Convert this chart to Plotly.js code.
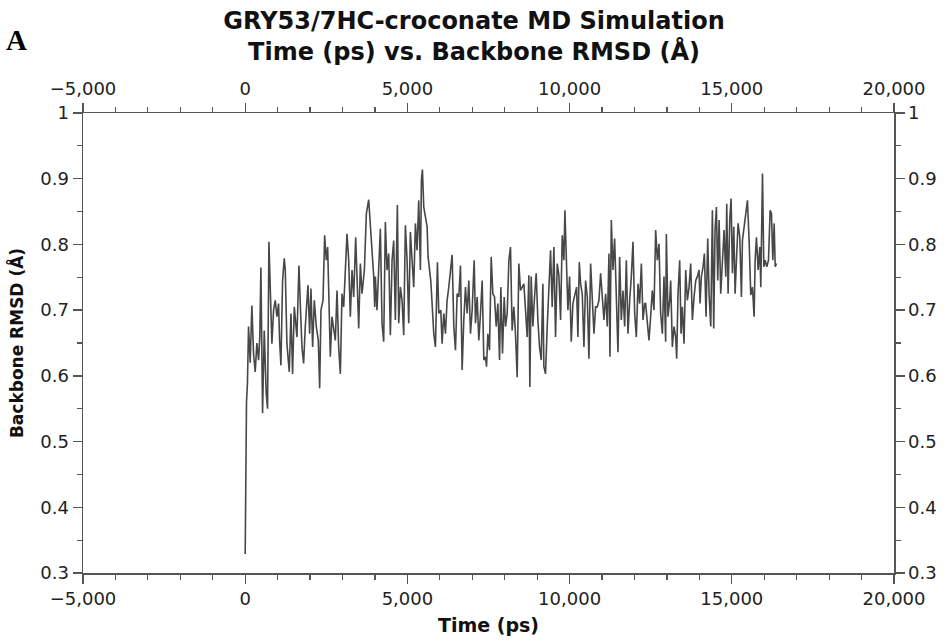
<!DOCTYPE html>
<html>
<head>
<meta charset="utf-8">
<script src="https://cdn.plot.ly/plotly-3.0.1.min.js"></script>
<style>html,body{margin:0;padding:0;background:#fff;}#chart{width:948px;height:641px;}</style>
</head>
<body>
<div id="chart"></div>
<script>
// Time (ps)
const timePs = [
0,20,40,70,103,154,206,257,309,360,412,450,484,535,587,648,689,731,772,823,875,926,978,1029,1060,1101,1152,1204,1235,1286,1358,1410,1461,1513,1595,1657,1698,1749,1801,1852,1935,1986,2027,2079,2130,2192,2253,2295,2336,2398,2449,2500,2542,2573,2624,2675,2727,2778,2830,2881,2933,2984,3036,3097,3138,3190,3241,3293,3344,3406,3447,3499,3550,3602,3674,3735,3807,3859,3910,3962,3993,
4012,4063,4166,4218,4269,4321,4372,4424,4475,4527,4578,4629,4691,4732,4784,4835,4887,4938,4990,5041,5092,5144,5195,5247,5298,5350,5401,5432,5463,5504,5556,5607,5638,5679,5720,5761,5813,5864,5926,5967,6029,6070,6121,6173,6224,6276,6338,6379,6430,6482,6533,6585,6636,6687,6739,6790,6842,6893,6945,6996,7058,7099,7150,7202,7253,7305,7356,7408,7439,7480,7531,7583,7634,7686,7737,7788,7840,7881,7932,7984,8025,8076,8128,
8178,8229,8281,8332,8384,8435,8487,8538,8590,8641,8693,8744,8775,8816,8867,8919,8970,9022,9073,9125,9176,9207,9258,9310,9361,9413,9464,9516,9567,9619,9670,9722,9773,9824,9855,9896,9948,9999,10051,10102,10154,10215,10256,10298,10339,10390,10442,10493,10545,10596,10648,10699,10751,10802,10853,10905,10956,11008,11059,11111,11162,11214,11244,11286,11337,11388,11440,11491,11543,11594,11646,11697,11749,11800,11852,11903,11954,12006,12057,12109,12160,12212,12263,12315,
12344,12395,12447,12498,12550,12601,12653,12704,12756,12807,12859,12910,12961,12982,13033,13085,13116,13167,13219,13270,13301,13342,13394,13435,13476,13527,13579,13630,13682,13733,13785,13836,13888,13939,13990,14021,14062,14114,14155,14206,14258,14299,14351,14402,14443,14484,14525,14567,14608,14659,14711,14762,14814,14844,14886,14937,14978,15019,15061,15102,15143,15194,15246,15297,15328,15380,15431,15482,15534,15585,15637,15688,15719,15760,15812,15863,15894,15946,15987,16028,16079,16131,16182,16223,16264,16306,16337,16378
];
// Backbone RMSD (Å)
const rmsd = [
0.329,0.444,0.56,0.59,0.675,0.62,0.707,0.634,0.606,0.65,0.624,0.66,0.765,0.543,0.669,0.573,0.550,0.804,0.725,0.649,0.700,0.715,0.690,0.710,0.654,0.616,0.745,0.779,0.761,0.649,0.606,0.695,0.603,0.705,0.659,0.768,0.710,0.644,0.619,0.675,0.738,0.664,0.733,0.644,0.715,0.675,0.654,0.581,0.700,0.715,0.814,0.776,0.796,0.715,0.629,0.690,0.675,0.654,0.730,0.644,0.603,0.725,0.705,0.781,0.816,0.776,0.690,0.761,0.720,0.811,0.751,0.672,0.771,0.725,0.761,0.847,0.868,0.827,0.796,0.751,0.705,
0.751,0.700,0.824,0.680,0.652,0.834,0.761,0.786,0.662,0.776,0.806,0.685,0.860,0.680,0.735,0.715,0.662,0.829,0.776,0.680,0.819,0.776,0.735,0.832,0.791,0.867,0.761,0.898,0.914,0.857,0.842,0.827,0.781,0.761,0.745,0.710,0.664,0.644,0.773,0.695,0.700,0.649,0.695,0.664,0.715,0.735,0.766,0.784,0.675,0.639,0.725,0.720,0.768,0.609,0.685,0.735,0.695,0.745,0.664,0.700,0.776,0.680,0.720,0.654,0.695,0.745,0.624,0.629,0.614,0.664,0.639,0.781,0.725,0.720,0.675,0.710,0.624,0.735,0.634,0.720,0.675,0.695,0.776,
0.796,0.669,0.705,0.664,0.598,0.771,0.730,0.735,0.740,0.700,0.659,0.753,0.583,0.751,0.675,0.720,0.756,0.685,0.644,0.624,0.740,0.614,0.603,0.675,0.735,0.791,0.705,0.796,0.659,0.771,0.753,0.685,0.814,0.776,0.852,0.791,0.700,0.751,0.652,0.710,0.720,0.735,0.659,0.773,0.740,0.725,0.644,0.745,0.720,0.626,0.771,0.710,0.664,0.705,0.705,0.715,0.756,0.720,0.685,0.725,0.675,0.786,0.629,0.837,0.761,0.809,0.705,0.636,0.781,0.685,0.730,0.675,0.776,0.664,0.715,0.751,0.804,0.695,0.659,0.740,0.710,0.771,0.685,0.710,
0.710,0.675,0.654,0.690,0.730,0.700,0.822,0.776,0.801,0.695,0.664,0.751,0.652,0.816,0.690,0.715,0.745,0.644,0.675,0.659,0.626,0.725,0.776,0.664,0.705,0.649,0.761,0.715,0.735,0.771,0.685,0.720,0.745,0.751,0.761,0.710,0.751,0.766,0.786,0.690,0.809,0.725,0.675,0.852,0.672,0.822,0.857,0.745,0.837,0.725,0.781,0.822,0.751,0.862,0.725,0.837,0.870,0.756,0.827,0.725,0.776,0.832,0.811,0.720,0.806,0.827,0.839,0.867,0.806,0.723,0.735,0.690,0.776,0.811,0.761,0.796,0.735,0.908,0.766,0.776,0.766,0.776,0.852,0.847,0.776,0.832,0.766,0.771
];
const xTickVals = [-5000, 0, 5000, 10000, 15000, 20000];
const yTickVals = [0.3, 0.4, 0.5, 0.6, 0.7, 0.8, 0.9, 1];
const titleText = 'GRY53/7HC-croconate MD Simulation<br>Time (ps) vs. Backbone RMSD (Å)';
const xTitle = 'Time (ps)';
const yTitle = 'Backbone RMSD (Å)';
const panelLabel = 'A';

const axisColor = '#555';
const tickFont = {family: 'DejaVu Sans', size: 18, color: '#222'};

const xCommon = {
  range: [-5000, 20000], tickvals: xTickVals, tickformat: ',d',
  ticks: 'outside', ticklen: 9, tickwidth: 1.3, tickcolor: axisColor,
  showline: true, linecolor: axisColor, linewidth: 1.5,
  showgrid: false, zeroline: false, tickfont: tickFont,
  minor: {dtick: 1000, tick0: 0, ticks: 'outside', ticklen: 5, tickwidth: 1.2, tickcolor: axisColor, showgrid: false}
};
const yCommon = {
  range: [0.3, 1], tickvals: yTickVals,
  ticks: 'outside', ticklen: 9, tickwidth: 1.3, tickcolor: axisColor,
  showline: true, linecolor: axisColor, linewidth: 1.5,
  showgrid: false, zeroline: false, tickfont: tickFont,
  minor: {dtick: 0.05, tick0: 0.3, ticks: 'outside', ticklen: 5, tickwidth: 1.2, tickcolor: axisColor, showgrid: false}
};

const data = [
  {x: timePs, y: rmsd, type: 'scatter', mode: 'lines',
   line: {color: '#474747', width: 1.6}, hoverinfo: 'skip', showlegend: false},
  {x: [], y: [], xaxis: 'x2', yaxis: 'y2', type: 'scatter', mode: 'lines', showlegend: false, hoverinfo: 'skip'}
];

const layout = {
  width: 948, height: 641,
  margin: {l: 83, r: 54, t: 113, b: 68},
  paper_bgcolor: '#fff', plot_bgcolor: '#fff',
  showlegend: false,
  title: {text: titleText, x: 0.5, xref: 'container', xanchor: 'center',
          y: 1 - 29/641, yref: 'container', yanchor: 'middle',
          font: {family: 'DejaVu Sans', size: 24, color: '#111', weight: 'bold'}},
  xaxis: Object.assign({}, xCommon, {
    side: 'bottom',
    title: {text: xTitle, standoff: 10, font: {family: 'DejaVu Sans', size: 19, color: '#111', weight: 'bold'}}
  }),
  xaxis2: Object.assign({}, xCommon, {side: 'top', overlaying: 'x', anchor: 'y2'}),
  yaxis: Object.assign({}, yCommon, {
    side: 'left',
    title: {text: yTitle, standoff: 12, font: {family: 'DejaVu Sans', size: 17, color: '#111', weight: 'bold'}}
  }),
  yaxis2: Object.assign({}, yCommon, {side: 'right', overlaying: 'y', anchor: 'x2'}),
  annotations: [{
    text: panelLabel, xref: 'paper', yref: 'paper', showarrow: false,
    x: -0.082, y: 1 + 73/460, xanchor: 'center', yanchor: 'middle',
    font: {family: 'Liberation Serif', size: 29, color: '#000', weight: 'bold'}
  }]
};

Plotly.newPlot('chart', data, layout, {staticPlot: true, displayModeBar: false});
</script>
</body>
</html>
